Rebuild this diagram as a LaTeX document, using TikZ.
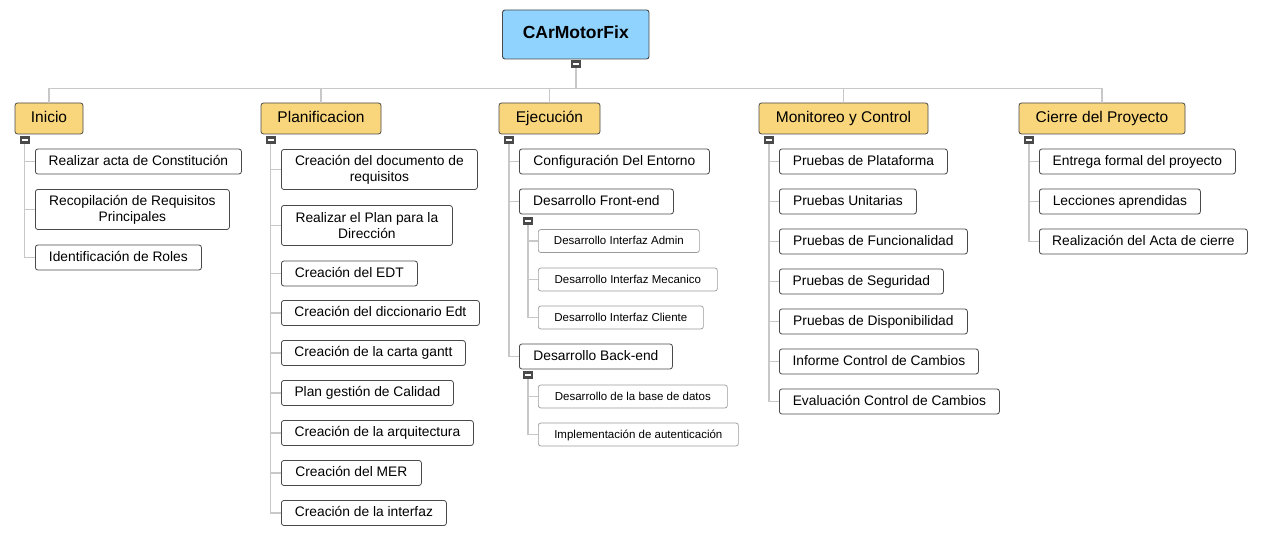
\documentclass[tikz,border=0pt]{standalone}
\usepackage{fontspec}
\setmainfont{Liberation Sans}
\definecolor{rootfill}{HTML}{8FD3FE}
\definecolor{phasefill}{HTML}{F9D67B}
\definecolor{edge}{HTML}{4A4A4A}
\definecolor{subedge}{HTML}{9A9A9A}
\definecolor{conncol}{HTML}{C8C8C8}
\definecolor{togglecol}{HTML}{4A4A4A}
\begin{document}
\begin{tikzpicture}[x=1pt,y=-1pt,
  root/.style={draw=edge, line width=0.9pt, fill=rootfill, rounded corners=2.5pt,
    minimum width=146.5pt, minimum height=49pt, inner sep=0pt,
    text height=0.72em, text depth=0pt,
    font=\fontsize{17.5}{21}\selectfont\bfseries},
  phase/.style={draw=edge, line width=0.8pt, fill=phasefill, rounded corners=2.5pt,
    minimum height=31pt, inner sep=0pt, text height=0.72em, text depth=0pt,
    font=\fontsize{15.5}{18}\selectfont},
  task/.style={draw=edge, line width=0.8pt, fill=white, rounded corners=2.5pt,
    minimum height=25pt, inner xsep=2pt, inner ysep=0pt, anchor=west,
    text height=0.72em, text depth=0pt,
    font=\fontsize{13.8}{15.8}\selectfont},
  tasktwo/.style={task, text height=, text depth=, align=center},
  subtask/.style={draw=subedge, line width=0.7pt, fill=white, rounded corners=2.5pt,
    minimum height=23pt, inner xsep=2pt, inner ysep=0pt, anchor=west,
    text height=0.72em, text depth=0pt,
    font=\fontsize{11.5}{14}\selectfont},
  toggle/.style={fill=togglecol, minimum width=10pt, minimum height=8pt, inner sep=0pt,
    path picture={\draw[white, line width=1.6pt]
      ([xshift=2pt]path picture bounding box.west) -- ([xshift=-2pt]path picture bounding box.east);}},
  conn/.style={draw=conncol, line width=1.3pt}
]
\useasboundingbox[fill=white] (0,0) rectangle (1262,534);

% root
\node[root] (root) at (575.75,34.5) {CArMotorFix};
\node[toggle] (mroot) at (576,64) {};

% phases
\node[phase, minimum width=68pt] (inicio) at (49,118.5) {Inicio};
\node[phase, minimum width=120pt] (plan) at (321,118.5) {Planificacion};
\node[phase, minimum width=101pt] (ejec) at (549.5,118.5) {Ejecución};
\node[phase, minimum width=169pt] (moni) at (843.5,118.5) {Monitoreo y Control};
\node[phase, minimum width=166pt] (cierre) at (1102,118.5) {Cierre del Proyecto};

\foreach \p in {inicio,plan,ejec,moni,cierre}
  \draw[conn] (mroot.south) -- ++(0,20) -| (\p.north);

\node[toggle] (minicio) at (24.5,140) {};
\node[toggle] (mplan) at (270.5,140) {};
\node[toggle] (mejec) at (509,140) {};
\node[toggle] (mmoni) at (769,140) {};
\node[toggle] (mcierre) at (1029,140) {};

% Inicio
\node[task, minimum width=206pt] (i1) at (35,161.5) {Realizar acta de Constitución};
\node[tasktwo, minimum width=194pt, minimum height=40pt] (i2) at (35,209.5) {Recopilación de Requisitos\\Principales};
\node[task, minimum width=166pt] (i3) at (35,257.5) {Identificación de Roles};

% Planificacion
\node[tasktwo, minimum width=196pt, minimum height=40pt] (p1) at (281,169.5) {Creación del documento de\\requisitos};
\node[tasktwo, minimum width=171pt, minimum height=40pt] (p2) at (281,225.5) {Realizar el Plan para la\\Dirección};
\node[task, minimum width=136pt] (p3) at (281,273.5) {Creación del EDT};
\node[task, minimum width=198pt] (p4) at (281,313) {Creación del diccionario Edt};
\node[task, minimum width=184pt] (p5) at (281,353) {Creación de la carta gantt};
\node[task, minimum width=172pt] (p6) at (281,393) {Plan gestión de Calidad};
\node[task, minimum width=192pt] (p7) at (281,433) {Creación de la arquitectura};
\node[task, minimum width=140pt] (p8) at (281,473) {Creación del MER};
\node[task, minimum width=165pt] (p9) at (281,513) {Creación de la interfaz};

% Ejecucion
\node[task, minimum width=190pt] (e1) at (519,161.5) {Configuración Del Entorno};
\node[task, minimum width=154pt] (e2) at (519,201.5) {Desarrollo Front-end};
\node[toggle] (me2) at (528,221) {};
\node[subtask, minimum width=161pt] (e21) at (538,241) {Desarrollo Interfaz Admin};
\node[subtask, minimum width=179pt] (e22) at (538,279.5) {Desarrollo Interfaz Mecanico};
\node[subtask, minimum width=165pt] (e23) at (538,317.5) {Desarrollo Interfaz Cliente};
\node[task, minimum width=153pt] (e3) at (519,356.5) {Desarrollo Back-end};
\node[toggle] (me3) at (528,375) {};
\node[subtask, minimum width=189pt] (e31) at (538,396.5) {Desarrollo de la base de datos};
\node[subtask, minimum width=200pt] (e32) at (538,434.5) {Implementación de autenticación};

% Monitoreo
\node[task, minimum width=168pt] (m1) at (779,161.5) {Pruebas de Plataforma};
\node[task, minimum width=137pt] (m2) at (779,201.5) {Pruebas Unitarias};
\node[task, minimum width=188pt] (m3) at (779,241.5) {Pruebas de Funcionalidad};
\node[task, minimum width=164pt] (m4) at (779,281.5) {Pruebas de Seguridad};
\node[task, minimum width=188pt] (m5) at (779,321.5) {Pruebas de Disponibilidad};
\node[task, minimum width=199pt] (m6) at (779,361.5) {Informe Control de Cambios};
\node[task, minimum width=220pt] (m7) at (779,401.5) {Evaluación Control de Cambios};

% Cierre
\node[task, minimum width=196pt] (c1) at (1039,161.5) {Entrega formal del proyecto};
\node[task, minimum width=161pt] (c2) at (1039,201.5) {Lecciones aprendidas};
\node[task, minimum width=208pt] (c3) at (1039,241.5) {Realización del Acta de cierre};

% connectors
\foreach \c in {i1,i2,i3} \draw[conn] (minicio.south) |- (\c.west);
\foreach \c in {p1,p2,p3,p4,p5,p6,p7,p8,p9} \draw[conn] (mplan.south) |- (\c.west);
\foreach \c in {e1,e2,e3} \draw[conn] (mejec.south) |- (\c.west);
\foreach \c in {e21,e22,e23} \draw[conn] (me2.south) |- (\c.west);
\foreach \c in {e31,e32} \draw[conn] (me3.south) |- (\c.west);
\foreach \c in {m1,m2,m3,m4,m5,m6,m7} \draw[conn] (mmoni.south) |- (\c.west);
\foreach \c in {c1,c2,c3} \draw[conn] (mcierre.south) |- (\c.west);
\end{tikzpicture}
\end{document}
